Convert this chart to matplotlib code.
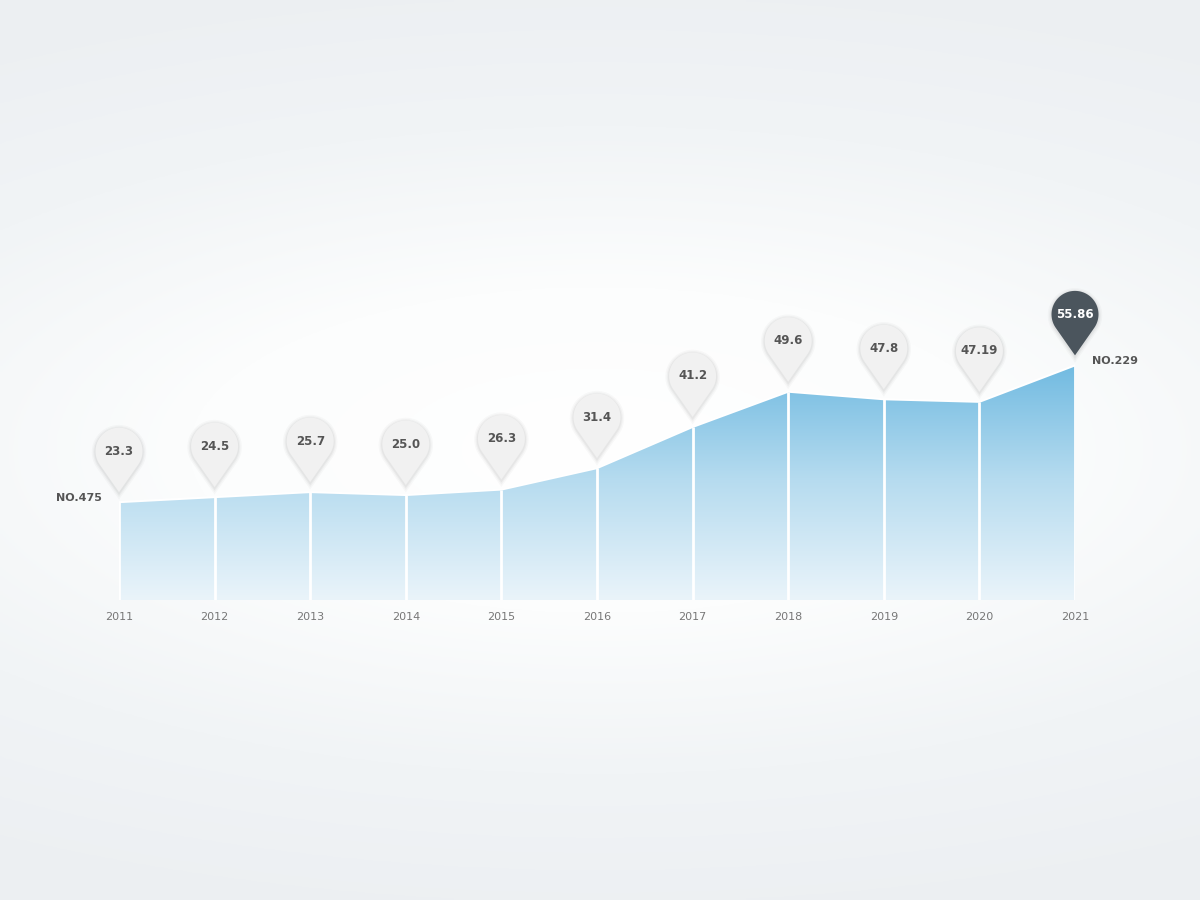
import numpy as np
import matplotlib
matplotlib.use('Agg')
import matplotlib.pyplot as plt
from matplotlib.path import Path
from matplotlib.patches import PathPatch
from matplotlib import transforms
from matplotlib.colors import LinearSegmentedColormap

years = [2011, 2012, 2013, 2014, 2015, 2016, 2017, 2018, 2019, 2020, 2021]
values = [23.3, 24.5, 25.7, 25.0, 26.3, 31.4, 41.2, 49.6, 47.8, 47.19, 55.86]
labels = ['23.3', '24.5', '25.7', '25.0', '26.3', '31.4', '41.2', '49.6', '47.8', '47.19', '55.86']
rank_first = 'NO.475'
rank_last = 'NO.229'

W, H = 1200, 900
fig = plt.figure(figsize=(12, 9), dpi=100)

# background glow
bg = fig.add_axes([0, 0, 1, 1])
yy, xx = np.mgrid[0:1:300j, 0:1:400j]
r = np.sqrt(((xx - 0.5) / 0.85) ** 2 + ((yy - 0.5) / 0.45) ** 2)
bg_cmap = LinearSegmentedColormap.from_list('bg', ['#ffffff', '#fcfdfd', '#f1f4f6', '#eceff2'])
bg.imshow(np.clip(r, 0, 1.2), cmap=bg_cmap, aspect='auto', extent=[0, 1, 0, 1], vmin=0, vmax=1.2)
bg.axis('off')

# main chart area: x 2011 -> 119px, 2021 -> 1075px, baseline at 600px
px_per_unit = 4.2
ax_h = 300
ax = fig.add_axes([119 / W, (H - 600) / H, (1075 - 119) / W, ax_h / H])
ax.set_xlim(years[0], years[-1])
ax.set_ylim(0, ax_h / px_per_unit)
ax.axis('off')
ax.patch.set_alpha(0)

poly = ax.fill_between(years, values, 0, color='none', lw=0)
grad = np.linspace(0, 1, 256).reshape(-1, 1)
fill_cmap = LinearSegmentedColormap.from_list('fill', ['#eaf4fa', '#b5dbef', '#6cb8e0'])
img = ax.imshow(grad, cmap=fill_cmap, aspect='auto', origin='lower',
                extent=[years[0], years[-1], 0, 58], zorder=1)
img.set_clip_path(poly.get_paths()[0], transform=ax.transData)

# white separators
for x, v in zip(years, values):
    ax.plot([x, x], [0, v], color='white', lw=2, zorder=2, solid_capstyle='butt')
ax.plot(years, values, color='white', lw=1.5, zorder=2)

# pins
rad = 0.235
d = 0.41
base = 0.10
a = np.arccos(rad / d)
th = np.linspace(-np.pi / 2 + a, -np.pi / 2 - a + 2 * np.pi, 80)
verts = [(rad * np.cos(t), base + d + rad * np.sin(t)) for t in th] + [(0, base)]
verts.append(verts[0])
codes = [Path.MOVETO] + [Path.LINETO] * (len(verts) - 2) + [Path.CLOSEPOLY]
pin = Path(verts, codes)

for i, (x, v, lab) in enumerate(zip(years, values, labels)):
    last = i == len(years) - 1
    # soft shadow made of a few scaled copies
    for k, (sc, alpha) in enumerate([(1.16, 0.025), (1.10, 0.03), (1.05, 0.04)]):
        sh = transforms.Affine2D().translate(0, -(base + d)).scale(sc).translate(0, base + d - 0.01) + \
            fig.dpi_scale_trans + transforms.ScaledTranslation(x, v, ax.transData)
        ax.add_patch(PathPatch(pin, transform=sh, facecolor='#000000', alpha=alpha,
                               lw=0, zorder=3, clip_on=False))
    tr = fig.dpi_scale_trans + transforms.ScaledTranslation(x, v, ax.transData)
    ax.add_patch(PathPatch(pin, transform=tr, facecolor='#4b555d' if last else '#f1f1f1',
                           edgecolor='none', zorder=4, clip_on=False))
    ty = transforms.offset_copy(ax.transData, fig=fig, y=(base + d) * 72, units='points')
    ax.text(x, v, lab, transform=ty, ha='center', va='center', fontsize=8.5,
            fontweight='bold', color='white' if last else '#555555', zorder=5)
    yt = transforms.offset_copy(ax.transData, fig=fig, y=-12, units='points')
    ax.text(x, 0, str(x), transform=yt, ha='center', va='center', fontsize=8,
            color='#777777', zorder=5)

ax.annotate(rank_first, (years[0], values[0]), xytext=(-12, 3), textcoords='offset points',
            ha='right', va='center', fontsize=8, fontweight='bold', color='#555555')
ax.annotate(rank_last, (years[-1], values[-1]), xytext=(12, 3), textcoords='offset points',
            ha='left', va='center', fontsize=8, fontweight='bold', color='#555555')

fig.savefig('out.png', dpi=100)
